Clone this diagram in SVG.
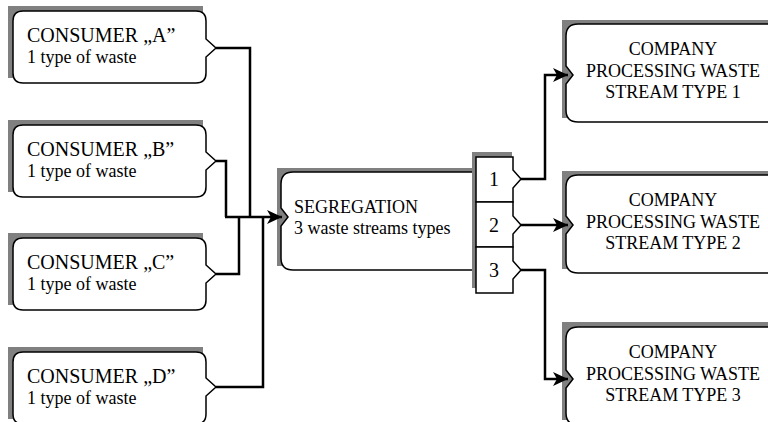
<svg xmlns="http://www.w3.org/2000/svg" width="768" height="422" viewBox="0 0 768 422">
<style>
.shadow{fill:#808080;stroke:none}
.box{fill:#ffffff;stroke:#000000;stroke-width:1.5}
.t{font-family:"Liberation Serif","Times New Roman",serif;font-size:18px;fill:#000000}
.h{font-size:20px}
.c{text-anchor:middle}
.conn{fill:none;stroke:#000000;stroke-width:2.5;stroke-linejoin:miter}
</style>
<defs>
<marker id="arr" markerUnits="userSpaceOnUse" markerWidth="16" markerHeight="14" refX="15" refY="7" orient="auto">
<path d="M0,0 L15,7 L0,14 L4,7 Z" fill="#000000"/>
</marker>
</defs>
<rect width="768" height="422" fill="#ffffff"/>

<g id="consumerA">
<rect class="shadow" x="8" y="6" width="195" height="72"/>
<path class="box" d="M23,11 H196 Q206,11 206,21 V39 L216,48 L206,57 V73 Q206,83 196,83 H23 Q13,83 13,73 V21 Q13,11 23,11 Z"/>
<text class="t h" x="27" y="42">CONSUMER „A”</text>
<text class="t" x="27" y="63">1 type of waste</text>
</g>
<g id="consumerB">
<rect class="shadow" x="8" y="120" width="195" height="72"/>
<path class="box" d="M23,125 H196 Q206,125 206,135 V152 L216,161 L206,170 V187 Q206,197 196,197 H23 Q13,197 13,187 V135 Q13,125 23,125 Z"/>
<text class="t h" x="27" y="156">CONSUMER „B”</text>
<text class="t" x="27" y="177">1 type of waste</text>
</g>
<g id="consumerC">
<rect class="shadow" x="8" y="233" width="195" height="72"/>
<path class="box" d="M23,238 H196 Q206,238 206,248 V265 L216,274 L206,283 V300 Q206,310 196,310 H23 Q13,310 13,300 V248 Q13,238 23,238 Z"/>
<text class="t h" x="27" y="269">CONSUMER „C”</text>
<text class="t" x="27" y="290">1 type of waste</text>
</g>
<g id="consumerD">
<rect class="shadow" x="8" y="347" width="195" height="72"/>
<path class="box" d="M23,352 H196 Q206,352 206,362 V378 L216,387 L206,396 V414 Q206,424 196,424 H23 Q13,424 13,414 V362 Q13,352 23,352 Z"/>
<text class="t h" x="27" y="383">CONSUMER „D”</text>
<text class="t" x="27" y="404">1 type of waste</text>
</g>

<g id="segregation">
<rect class="shadow" x="277" y="168" width="197" height="98"/>
<path class="box" d="M293,172 H478 V270 H293 Q281,270 281,258 V226 L288,217 L281,208 V184 Q281,172 293,172 Z"/>
<text class="t" x="294" y="213">SEGREGATION</text>
<text class="t" x="294" y="234">3 waste streams types</text>
</g>

<g id="streams">
<rect class="shadow" x="472" y="152" width="40" height="136"/>
<path class="box" d="M476,157 H513 V170 L521,179 L513,188 V202 H476 Z"/>
<path class="box" d="M476,202 H513 V216 L521,225 L513,234 V247 H476 Z"/>
<path class="box" d="M476,247 H513 V261 L521,270 L513,279 V293 H476 Z"/>
<text class="t h c" x="494" y="186">1</text>
<text class="t h c" x="494" y="232">2</text>
<text class="t h c" x="494" y="277">3</text>
</g>

<g id="company1">
<rect class="shadow" x="562" y="20" width="214" height="98"/>
<path class="box" d="M578,24 H780 V122 H578 Q566,122 566,110 V84 L573,75 L566,66 V36 Q566,24 578,24 Z"/>
<text class="t c" x="673" y="55">COMPANY</text>
<text class="t c" x="673" y="77">PROCESSING WASTE</text>
<text class="t c" x="673" y="98">STREAM TYPE 1</text>
</g>
<g id="company2">
<rect class="shadow" x="562" y="171" width="214" height="98"/>
<path class="box" d="M578,175 H780 V273 H578 Q566,273 566,261 V234 L573,225 L566,216 V187 Q566,175 578,175 Z"/>
<text class="t c" x="673" y="206">COMPANY</text>
<text class="t c" x="673" y="228">PROCESSING WASTE</text>
<text class="t c" x="673" y="249">STREAM TYPE 2</text>
</g>
<g id="company3">
<rect class="shadow" x="562" y="322" width="214" height="98"/>
<path class="box" d="M578,327 H780 V425 H578 Q566,425 566,413 V388 L573,379 L566,370 V339 Q566,327 578,327 Z"/>
<text class="t c" x="673" y="358">COMPANY</text>
<text class="t c" x="673" y="380">PROCESSING WASTE</text>
<text class="t c" x="673" y="401">STREAM TYPE 3</text>
</g>

<g id="connectors">
<path class="conn" d="M216,48 H250 V217"/>
<path class="conn" d="M216,161 H226 V217"/>
<path class="conn" d="M216,274 H239 V217"/>
<path class="conn" d="M216,387 H263 V217"/>
<path class="conn" d="M225,217 H282" marker-end="url(#arr)"/>
<path class="conn" d="M521,179 H545 V75 H568" marker-end="url(#arr)"/>
<path class="conn" d="M521,225 H568" marker-end="url(#arr)"/>
<path class="conn" d="M521,270 H545 V379 H568" marker-end="url(#arr)"/>
</g>
</svg>
